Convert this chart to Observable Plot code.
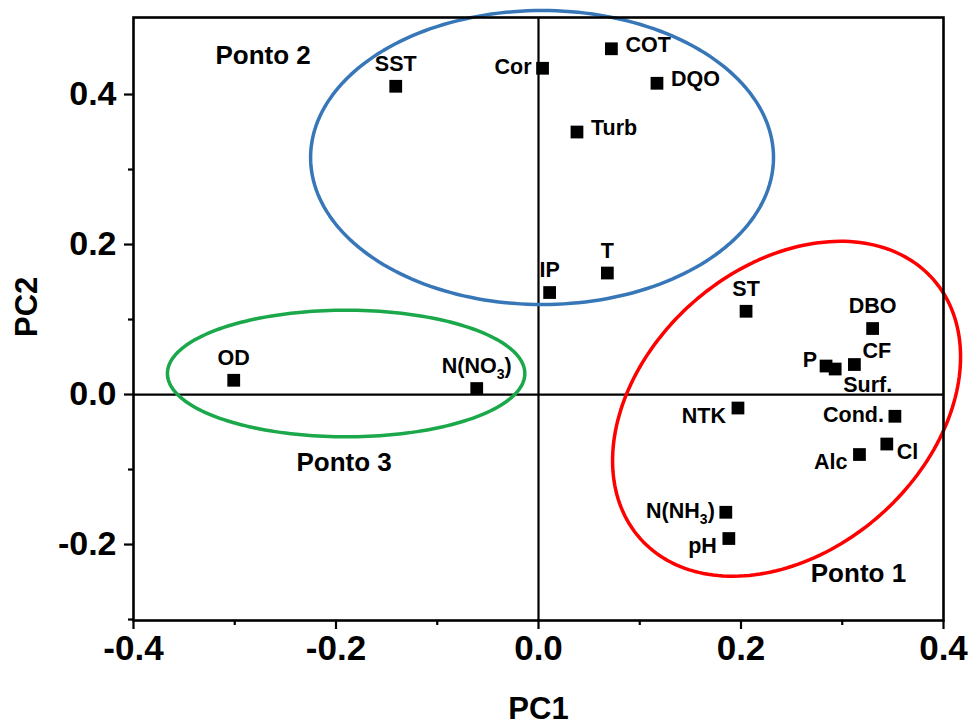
<!DOCTYPE html>
<html>
<head>
<meta charset="utf-8">
<script src="https://cdn.jsdelivr.net/npm/d3@7"></script>
<script src="https://cdn.jsdelivr.net/npm/@observablehq/plot@0.6"></script>
<style>
  html, body { margin: 0; padding: 0; background: #fff; }
  #chart svg { display: block; }
</style>
</head>
<body>
<div id="chart"></div>
<script>
// ---- data ----
const params = ["SST","Cor","COT","DQO","Turb","IP","T","OD","N(NO3)","ST","DBO","P","Surf.","CF","NTK","Cond.","Cl","Alc","N(NH3)","pH"];
const pc1 = [-0.141, 0.004, 0.072, 0.117, 0.038, 0.011, 0.068, -0.301, -0.061, 0.205, 0.330, 0.284, 0.293, 0.312, 0.197, 0.352, 0.344, 0.317, 0.185, 0.188];
const pc2 = [0.411, 0.435, 0.461, 0.415, 0.350, 0.136, 0.162, 0.019, 0.008, 0.111, 0.088, 0.038, 0.034, 0.040, -0.018, -0.029, -0.066, -0.080, -0.157, -0.192];
// label placement relative to each point (compass code)
const placement = ["n","w","e","e","e","n","n","n","n","n","n","wn","se","ne","ws","w","es","ws","w","ws"];

// group annotations
const groupNames = ["Ponto 1","Ponto 2","Ponto 3"];
const groupX = [0.316, -0.272, -0.192];
const groupY = [-0.239, 0.452, -0.091];

// axis titles
const xTitle = "PC1";
const yTitle = "PC2";

// ellipses: centre and semi-axis vectors, in data units
const ellCx = [0.245, 0.0035, -0.190];
const ellCy = [-0.019, 0.316, 0.028];
const ellUx = [0.1447, 0.2286, 0.1765];
const ellUy = [0.1728, 0, 0];
const ellVx = [-0.0927, 0, 0];
const ellVy = [0.1414, 0.196, 0.0844];
const ellColors = ["#FF0000", "#3777B8", "#1AA84A"];

const xMajor = [-0.4, -0.2, 0, 0.2, 0.4];
const xMinor = [-0.3, -0.1, 0.1, 0.3];
const yMajor = [-0.2, 0, 0.2, 0.4];
const yMinor = [-0.3, -0.1, 0.1, 0.3];

// ---- build tables ----
const points = params.map((p, i) => ({name: p, x: pc1[i], y: pc2[i], pos: placement[i]}));
const groups = groupNames.map((g, i) => ({name: g, x: groupX[i], y: groupY[i]}));
const ellPts = [];
ellCx.forEach((cx, k) => {
  const N = 200;
  for (let j = 0; j <= N; j++) {
    const t = 2 * Math.PI * j / N;
    ellPts.push({
      k,
      x: cx + ellUx[k] * Math.cos(t) + ellVx[k] * Math.sin(t),
      y: ellCy[k] + ellUy[k] * Math.cos(t) + ellVy[k] * Math.sin(t),
      c: ellColors[k]
    });
  }
});

const place = {
  n:  {dx: 0,   dy: -22, textAnchor: "middle"},
  w:  {dx: -11, dy: -1,  textAnchor: "end"},
  e:  {dx: 14,  dy: -4,  textAnchor: "start"},
  wn: {dx: -9,  dy: -6,  textAnchor: "end"},
  ws: {dx: -12, dy: 8,   textAnchor: "end"},
  es: {dx: 10,  dy: 8,   textAnchor: "start"},
  ne: {dx: 8,   dy: -13, textAnchor: "start"},
  se: {dx: 8,   dy: 16,  textAnchor: "start"}
};
const labelMarks = Object.entries(place).map(([code, o]) =>
  Plot.text(points.filter(d => d.pos === code), {
    x: "x", y: "y", text: "name", dx: o.dx, dy: o.dy, textAnchor: o.textAnchor,
    fontSize: 21.5, fontWeight: "bold", fill: "black"
  })
);

const fmt = d => d.toFixed(1);

const chart = Plot.plot({
  width: 968,
  height: 725,
  marginLeft: 133,
  marginRight: 25,
  marginTop: 17,
  marginBottom: 105,
  style: {fontFamily: "'Liberation Sans', Arial, sans-serif", fontWeight: "bold", color: "black", background: "white", overflow: "visible"},
  x: {domain: [-0.4, 0.4]},
  y: {domain: [-0.3013, 0.5027]},
  marks: [
    Plot.ruleX([0], {stroke: "black", strokeWidth: 2.2}),
    Plot.ruleY([0], {stroke: "black", strokeWidth: 2.2}),
    Plot.line(ellPts, {x: "x", y: "y", z: "k", stroke: "c", strokeWidth: 3.5, curve: "linear"}),
    Plot.dot(points, {x: "x", y: "y", symbol: "square", r: 7.2, fill: "black", stroke: "none"}),
    ...labelMarks,
    Plot.text(groups, {x: "x", y: "y", text: "name", fontSize: 26, fontWeight: "bold", fill: "black"}),
    Plot.axisX({ticks: xMajor, tickSize: 9, tickPadding: 6, tickFormat: fmt, fontSize: 35, fontWeight: "bold", strokeWidth: 2.2, label: null}),
    Plot.axisX({ticks: xMinor, tickSize: 5, tickFormat: () => "", strokeWidth: 2.2, label: null}),
    Plot.axisY({ticks: yMajor, tickSize: 9, tickPadding: 8, tickFormat: fmt, fontSize: 34, fontWeight: "bold", strokeWidth: 2.2, label: null}),
    Plot.axisY({ticks: yMinor, tickSize: 5, tickFormat: () => "", strokeWidth: 2.2, label: null}),
    Plot.text([xTitle], {frameAnchor: "bottom", dy: 89, fontSize: 31, fontWeight: "bold", fill: "black", lineAnchor: "middle"}),
    Plot.text([yTitle], {frameAnchor: "left", dx: -106, dy: 18, rotate: -90, fontSize: 31, fontWeight: "bold", fill: "black", lineAnchor: "middle"}),
    Plot.frame({stroke: "black", strokeWidth: 2.6})
  ]
});

// subscripts for N(NO3) and N(NH3)
d3.select(chart).selectAll("text").each(function() {
  const t = this.textContent;
  const m = /^N\((NO|NH)3\)$/.exec(t);
  if (m && this.children.length === 0) {
    const el = d3.select(this);
    el.text("");
    el.append("tspan").text("N(" + m[1]);
    el.append("tspan").attr("dy", 6).attr("font-size", 14).text("3");
    el.append("tspan").attr("dy", -6).text(")");
  }
});

document.getElementById("chart").appendChild(chart);
</script>
</body>
</html>
